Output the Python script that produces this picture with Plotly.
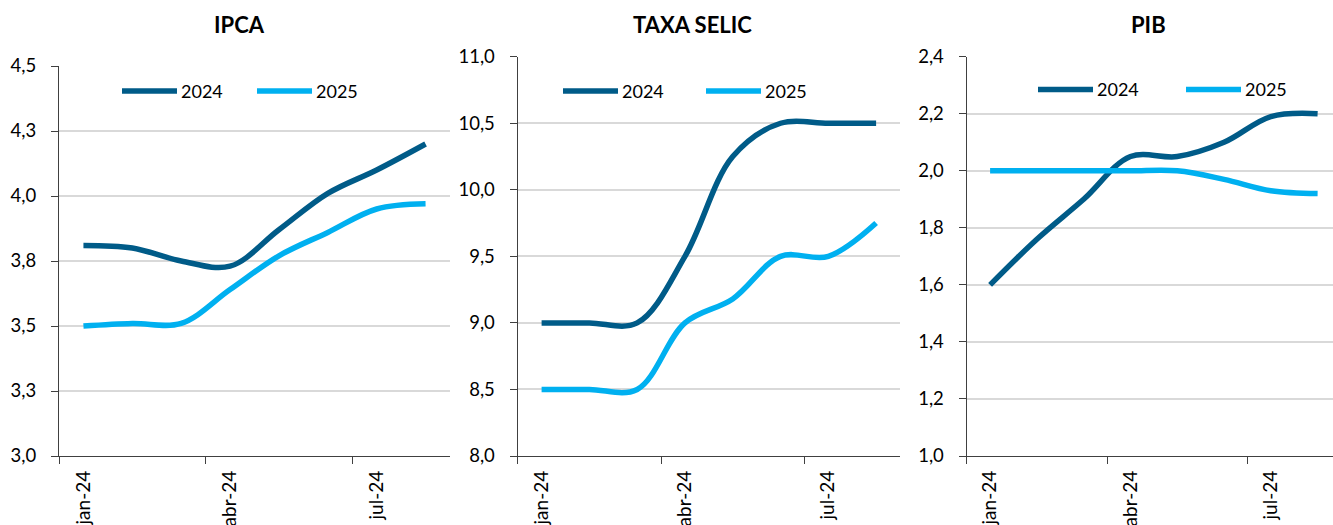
"""Expectativas Focus 2024 x 2025 - IPCA, Selic e PIB."""
import plotly.graph_objects as go

# ── data ──────────────────────────────────────────────────────────────────────
MONTHS = ["jan-24", "fev-24", "mar-24", "abr-24", "mai-24", "jun-24", "jul-24", "ago-24"]

IPCA_2024 = [3.81, 3.80, 3.75, 3.73, 3.87, 4.01, 4.10, 4.20]
IPCA_2025 = [3.50, 3.51, 3.51, 3.64, 3.77, 3.86, 3.95, 3.97]

SELIC_2024 = [9.00, 9.00, 9.00, 9.50, 10.25, 10.50, 10.50, 10.50]
SELIC_2025 = [8.50, 8.50, 8.50, 9.00, 9.18, 9.50, 9.50, 9.75]

PIB_2024 = [1.60, 1.76, 1.90, 2.05, 2.05, 2.10, 2.19, 2.20]
PIB_2025 = [2.00, 2.00, 2.00, 2.00, 2.00, 1.97, 1.93, 1.92]

TITLES = ["IPCA", "TAXA SELIC", "PIB"]
SERIES = ["2024", "2025"]
Y_RANGES = [(3.0, 4.5), (8.0, 11.0), (1.0, 2.4)]
Y_STEPS = [0.25, 0.5, 0.2]

# ── style ─────────────────────────────────────────────────────────────────────
W, H = 1333, 525
COLORS = {"2024": "#005b88", "2025": "#00b0f0"}
FONT = "Lato, Carlito, Calibri, sans-serif"
TXT = "#000000"
AXIS = "#404040"
GRID = "#d9d9d9"

# panel geometry in pixels: x0, x1, y_top, y_bottom
PANELS = [
    (59, 450, 66, 456),
    (517.7, 900, 56.7, 456),
    (966.7, 1341, 56.7, 456),
]
TITLE_X = [240, 693, 1148]
# legend: start of first sample, start of second sample, y centre
LEGEND_POS = [(122, 257, 91), (563, 706, 91), (1038, 1186, 89.5)]
SAMPLE_LEN = 55


def _px(x):
    return x / W


def _py(y):
    return 1 - y / H


data = [(IPCA_2024, IPCA_2025), (SELIC_2024, SELIC_2025), (PIB_2024, PIB_2025)]

fig = go.Figure()
shapes, annotations = [], []

for i, (s24, s25) in enumerate(data):
    n = "" if i == 0 else str(i + 1)
    x0, x1, yt, yb = PANELS[i]
    cat_w = (x1 - x0) / len(MONTHS)
    x_end = min(x1, W)
    x_range = [-0.5, -0.5 + (x_end - x0) / cat_w]

    for name, vals in zip(SERIES, (s24, s25)):
        fig.add_trace(go.Scatter(
            x=MONTHS, y=vals, name=name, mode="lines",
            line=dict(color=COLORS[name], width=5.5, shape="spline", smoothing=1),
            xaxis="x" + n, yaxis="y" + n, showlegend=False,
        ))

    fig.layout["xaxis" + n] = dict(
        domain=[_px(x0), _px(x_end)], anchor="y" + n,
        type="category", range=x_range, dtick=3, tickson="boundaries",
        ticks="outside", ticklen=7, tickwidth=1, tickcolor=AXIS,
        tickangle=-90, ticklabelstandoff=6,
        showline=True, linecolor=AXIS, linewidth=1.3,
        showgrid=False, zeroline=False, automargin=False,
        tickfont=dict(family=FONT, size=19, color=TXT),
    )
    lo, hi = Y_RANGES[i]
    fig.layout["yaxis" + n] = dict(
        domain=[_py(yb), _py(yt)], anchor="x" + n,
        range=[lo, hi], tick0=lo, dtick=Y_STEPS[i], tickformat=".1f",
        ticks="outside", ticklen=7, tickwidth=1, tickcolor=AXIS,
        ticklabelstandoff=11,
        showline=True, linecolor=AXIS, linewidth=1.3,
        showgrid=True, gridcolor=GRID, gridwidth=1.5,
        zeroline=False, automargin=False,
        tickfont=dict(family=FONT, size=18.5, color=TXT),
    )

    annotations.append(dict(
        text="<b>" + TITLES[i] + "</b>", x=_px(TITLE_X[i]), y=_py(24.5),
        xref="paper", yref="paper", xanchor="center", yanchor="middle",
        showarrow=False, font=dict(family=FONT, size=22, color=TXT),
    ))

    # legend drawn by hand so the line samples match the original length
    la, lb, ly = LEGEND_POS[i]
    for start, name in zip((la, lb), SERIES):
        shapes.append(dict(
            type="line", xref="paper", yref="paper",
            x0=_px(start), x1=_px(start + SAMPLE_LEN), y0=_py(ly), y1=_py(ly),
            line=dict(color=COLORS[name], width=5.5),
        ))
        annotations.append(dict(
            text=name, x=_px(start + SAMPLE_LEN + 2), y=_py(ly),
            xref="paper", yref="paper", xanchor="left", yanchor="middle",
            showarrow=False, font=dict(family=FONT, size=18, color=TXT),
        ))

fig.update_layout(
    width=W, height=H,
    margin=dict(l=0, r=0, t=0, b=0),
    paper_bgcolor="white", plot_bgcolor="white",
    separators=",.",
    showlegend=False,
    shapes=shapes, annotations=annotations,
    font=dict(family=FONT, color=TXT),
)

fig.write_html(
    "out.html",
    config={"displayModeBar": False},
    post_script="document.body.style.margin='0';",
)
